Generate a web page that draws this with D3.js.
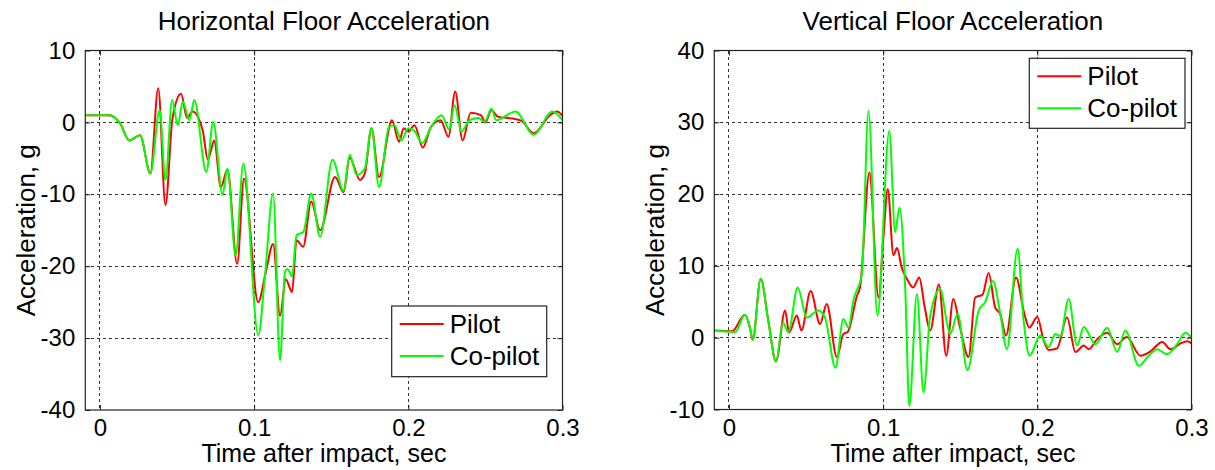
<!DOCTYPE html>
<html><head><meta charset="utf-8">
<script src="https://cdn.jsdelivr.net/npm/d3@7"></script>
<style>html,body{margin:0;padding:0;background:#fff;}svg{display:block;font-family:"Liberation Sans",Arial,sans-serif;}</style>
</head><body>
<svg id="chart" width="1215" height="470"></svg>
<script>
// ---------- DATA ----------
const seriesNames = ["Pilot", "Co-pilot"];
const xTicks = [0, 0.1, 0.2, 0.3];
const xTickLabels = ["0", "0.1", "0.2", "0.3"];
const hYTicks = [-40, -30, -20, -10, 0, 10];
const vYTicks = [-10, 0, 10, 20, 30, 40];

// Horizontal floor acceleration, pilot: [time s, g]
const hPilot = [
[-0.0095,1.0],[0.006,1.0],[0.013,-0.1],[0.019,-2.5],[0.026,-1.8],[0.0327,-7.1],[0.0378,4.75],[0.0425,-11.5],
[0.047,0.5],[0.0526,4.0],[0.0565,0.6],[0.060,1.5],[0.0666,-1.1],[0.070,-5.2],[0.072,-3.9],[0.0741,-2.5],
[0.0784,-9.0],[0.0827,-6.6],[0.089,-19.7],[0.0934,-7.8],[0.1026,-25.0],[0.1074,-21.0],[0.1123,-16.9],
[0.1168,-26.9],[0.1205,-21.8],[0.1246,-23.6],[0.1275,-16.4],[0.1318,-17.3],[0.137,-11.0],[0.1428,-15.0],
[0.1525,-7.6],[0.158,-9.7],[0.162,-4.9],[0.1686,-8.0],[0.1718,-7.1],[0.1761,-0.8],[0.181,-7.6],[0.1894,0.3],
[0.194,-2.7],[0.197,-0.8],[0.200,-1.3],[0.204,-0.4],[0.2094,-3.5],[0.2148,-0.6],[0.221,0.3],[0.226,-2.0],
[0.2304,4.3],[0.2352,-2.5],[0.2405,1.35],[0.247,1.0],[0.250,0.0],[0.2539,1.7],[0.258,0.8],[0.2685,0.5],
[0.2735,0.2],[0.2813,-1.5],[0.292,1.0],[0.2964,1.5],[0.300,0.9]
];
// Horizontal floor acceleration, co-pilot
const hCopilot = [
[-0.0095,1.0],[0.006,1.0],[0.013,-0.1],[0.019,-2.5],[0.026,-1.8],[0.0327,-7.1],[0.0387,1.7],[0.0425,-8.0],
[0.0468,3.1],[0.0505,-0.4],[0.0537,2.9],[0.058,0.3],[0.0612,3.1],[0.069,-6.9],[0.0735,0.1],[0.0795,-10.1],
[0.0827,-6.4],[0.088,-18.5],[0.093,-5.7],[0.1027,-29.6],[0.107,-21.4],[0.1123,-9.9],[0.1168,-33.1],
[0.120,-20.8],[0.1215,-20.4],[0.1246,-21.4],[0.1275,-15.7],[0.132,-15.2],[0.137,-9.9],[0.1428,-15.9],
[0.1508,-5.2],[0.158,-9.5],[0.162,-4.5],[0.1665,-7.3],[0.1718,-6.4],[0.1761,-0.8],[0.181,-9.0],[0.1875,-0.6],
[0.191,-0.4],[0.1955,-2.5],[0.200,-0.8],[0.204,-1.2],[0.209,-2.9],[0.2148,-0.6],[0.2216,1.0],[0.2265,-1.0],
[0.230,2.4],[0.2345,-1.3],[0.2395,0.3],[0.2455,0.6],[0.2495,0.1],[0.2539,1.9],[0.257,0.3],[0.2695,1.5],
[0.2813,-1.7],[0.2935,1.5],[0.300,0.3]
];
// Vertical floor acceleration, pilot
const vPilot = [
[-0.0095,1.0],[0.002,0.9],[0.0104,3.2],[0.0136,1.4],[0.0154,-0.3],[0.0206,8.2],[0.0255,2.4],[0.0305,-3.3],
[0.0364,3.8],[0.039,0.7],[0.044,3.1],[0.047,1.0],[0.053,6.5],[0.0591,1.9],[0.0634,4.7],[0.070,-2.7],
[0.0742,0.5],[0.077,0.8],[0.083,5.8],[0.085,7.0],[0.0911,23.0],[0.097,5.6],[0.1002,14.0],[0.103,20.7],
[0.1067,11.5],[0.109,12.5],[0.112,9.8],[0.1154,8.2],[0.1195,7.0],[0.1234,8.4],[0.127,4.2],[0.1305,1.0],
[0.1362,7.4],[0.1409,-2.5],[0.1455,5.4],[0.150,1.3],[0.1554,-2.7],[0.1597,5.6],[0.1645,6.0],[0.1684,9.0],
[0.1727,4.2],[0.176,3.3],[0.1797,0.3],[0.1862,8.4],[0.1916,3.3],[0.1948,1.4],[0.200,2.9],[0.2041,-0.4],
[0.2074,-1.7],[0.2128,-1.5],[0.2193,2.8],[0.2247,-2.0],[0.2301,-1.1],[0.2333,-1.6],[0.2388,-0.2],
[0.2453,0.7],[0.2518,-0.9],[0.258,0.1],[0.2669,-2.5],[0.2734,-1.9],[0.281,-0.6],[0.2864,-1.6],
[0.2929,-0.8],[0.2972,-0.5],[0.300,-0.8]
];
// Vertical floor acceleration, co-pilot
const vCopilot = [
[-0.0095,1.0],[0.004,0.8],[0.0104,3.2],[0.0136,1.4],[0.0154,-0.3],[0.0206,8.2],[0.0255,2.4],[0.0305,-3.3],
[0.035,2.1],[0.0385,0.8],[0.0446,7.0],[0.0504,2.8],[0.058,3.8],[0.0623,2.8],[0.0691,-4.2],[0.0742,2.6],
[0.0775,1.4],[0.0807,5.2],[0.0862,8.9],[0.0905,31.6],[0.0963,3.1],[0.104,28.8],[0.1078,14.7],[0.1106,18.1],
[0.1143,7.0],[0.117,-9.5],[0.1219,6.1],[0.1262,-7.6],[0.1305,3.0],[0.137,6.8],[0.1413,2.2],[0.1435,0.5],
[0.1483,3.3],[0.1547,-4.5],[0.162,3.8],[0.1663,5.0],[0.1712,7.9],[0.176,3.3],[0.1803,-1.6],[0.1872,12.4],
[0.1911,2.4],[0.195,-2.5],[0.2019,0.3],[0.2073,-1.3],[0.2117,0.5],[0.215,0.2],[0.2203,5.4],[0.2258,-1.1],
[0.2301,1.5],[0.2377,-0.9],[0.2453,1.4],[0.2518,-2.0],[0.2571,1.0],[0.2658,-3.9],[0.2723,-2.5],
[0.2777,-1.6],[0.2842,-2.3],[0.2907,-0.9],[0.2961,0.7],[0.300,0.0]
];

// ---------- LAYOUT ----------
const svg = d3.select("#chart");
const FONT = 25, TICKFONT = 24;
const colors = ["#ff0000", "#00ff00"];

const panels = [
  { title: "Horizontal Floor Acceleration", left: 85.3, right: 562.5, top: 50.5, bottom: 410,
    yDomain: [-40, 10], yTicks: hYTicks, series: [hPilot, hCopilot],
    legend: { x: 391.7, y: 306, w: 155, h: 70.7 }, ylabelX: 26 },
  { title: "Vertical Floor Acceleration", left: 714.3, right: 1191.5, top: 50.5, bottom: 409.5,
    yDomain: [-10, 40], yTicks: vYTicks, series: [vPilot, vCopilot],
    legend: { x: 1029.3, y: 58.3, w: 155.7, h: 70 }, ylabelX: 655 }
];

panels.forEach((p, i) => {
  const g = svg.append("g");
  const x = d3.scaleLinear().domain([-0.0095, 0.3]).range([p.left, p.right]);
  const y = d3.scaleLinear().domain(p.yDomain).range([p.bottom, p.top]);
  const W = p.right - p.left, H = p.bottom - p.top;

  // grid
  const grid = g.append("g").attr("stroke", "#333").attr("stroke-width", 1).attr("stroke-dasharray", "3,3").attr("shape-rendering", "crispEdges");
  xTicks.filter(t => x(t) < p.right - 1).forEach(t => {
    grid.append("line").attr("x1", x(t)).attr("x2", x(t)).attr("y1", p.top).attr("y2", p.bottom);
  });
  p.yTicks.filter(t => y(t) > p.top + 1 && y(t) < p.bottom - 1).forEach(t => {
    grid.append("line").attr("x1", p.left).attr("x2", p.right).attr("y1", y(t)).attr("y2", y(t));
  });

  // clip
  const clipId = "clip" + i;
  svg.append("clipPath").attr("id", clipId).append("rect")
    .attr("x", p.left).attr("y", p.top).attr("width", W).attr("height", H);

  const line = d3.line().x(d => x(d[0])).y(d => y(d[1])).curve(d3.curveMonotoneX);
  const lg = g.append("g").attr("clip-path", `url(#${clipId})`);
  p.series.forEach((s, k) => {
    lg.append("path").datum(s).attr("d", line).attr("fill", "none")
      .attr("stroke", colors[k]).attr("stroke-width", 2).attr("stroke-linejoin", "round");
  });

  // axes (inside ticks, MATLAB-like)
  const axB = d3.axisBottom(x).tickValues(xTicks).tickFormat((d, j) => xTickLabels[j]).tickSize(-5).tickPadding(9);
  const axT = d3.axisTop(x).tickValues(xTicks).tickFormat("").tickSize(-5);
  const axL = d3.axisLeft(y).tickValues(p.yTicks).tickFormat(d => String(d)).tickSize(-5).tickPadding(10);
  const axR = d3.axisRight(y).tickValues(p.yTicks).tickFormat("").tickSize(-5);
  const styleAx = sel => {
    sel.select(".domain").remove();
    sel.selectAll("line").attr("stroke", "#222");
    sel.selectAll("text").attr("fill", "#000").style("font-size", TICKFONT + "px").style("font-family", "Liberation Sans, Arial, sans-serif");
  };
  g.append("g").attr("transform", `translate(0,${p.bottom})`).call(axB).call(styleAx);
  g.append("g").attr("transform", `translate(0,${p.top})`).call(axT).call(styleAx);
  g.append("g").attr("transform", `translate(${p.left},0)`).call(axL).call(styleAx);
  g.append("g").attr("transform", `translate(${p.right},0)`).call(axR).call(styleAx);

  // frame
  g.append("rect").attr("x", p.left).attr("y", p.top).attr("width", W).attr("height", H)
    .attr("fill", "none").attr("stroke", "#222").attr("stroke-width", 1.2);

  // title & labels
  g.append("text").attr("x", (p.left + p.right) / 2).attr("y", 30).attr("text-anchor", "middle")
    .style("font-size", (FONT + 1) + "px").attr("fill", "#000").text(p.title);
  g.append("text").attr("x", (p.left + p.right) / 2).attr("y", 462).attr("text-anchor", "middle")
    .style("font-size", FONT + "px").attr("fill", "#000").text("Time after impact, sec");
  g.append("text").attr("transform", `translate(${p.ylabelX},${(p.top + p.bottom) / 2}) rotate(-90)`)
    .attr("text-anchor", "middle").attr("dy", "0.35em").style("font-size", (FONT + 1) + "px").attr("fill", "#000").text("Acceleration, g");

  // legend
  const L = p.legend;
  const leg = g.append("g").attr("transform", `translate(${L.x},${L.y})`);
  leg.append("rect").attr("width", L.w).attr("height", L.h).attr("fill", "#fff").attr("stroke", "#222").attr("stroke-width", 1.2);
  seriesNames.forEach((n, k) => {
    const yy = 18 + k * 32;
    leg.append("line").attr("x1", 8).attr("x2", 52).attr("y1", yy).attr("y2", yy).attr("stroke", colors[k]).attr("stroke-width", 2);
    leg.append("text").attr("x", 58).attr("y", yy).attr("dy", "0.35em").style("font-size", (FONT + 1) + "px").attr("fill", "#000").text(n);
  });
});
</script>
</body></html>
